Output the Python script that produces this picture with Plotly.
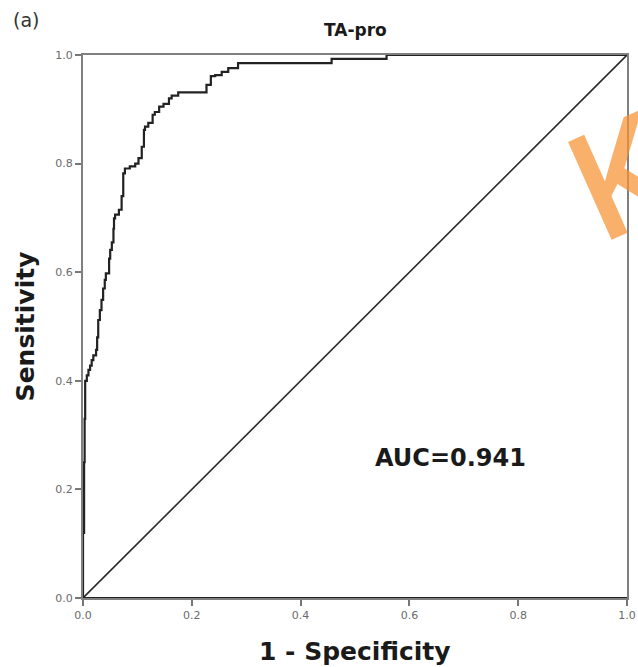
import plotly.graph_objects as go

# ROC curve for TA-pro
fpr = [0.000, 0.002, 0.003, 0.004, 0.004, 0.007, 0.010, 0.013, 0.016, 0.019,
       0.024, 0.026, 0.028, 0.031, 0.034, 0.037, 0.040, 0.042, 0.048, 0.050,
       0.053, 0.056, 0.057, 0.059, 0.066, 0.071, 0.074, 0.077, 0.086, 0.096,
       0.102, 0.108, 0.112, 0.114, 0.120, 0.128, 0.132, 0.140, 0.148, 0.158,
       0.163, 0.175, 0.188, 0.227, 0.235, 0.243, 0.255, 0.267, 0.285, 0.304,
       0.457, 0.460, 0.558, 0.561, 1.000]
tpr = [0.000, 0.120, 0.250, 0.330, 0.365, 0.400, 0.410, 0.420, 0.428, 0.438,
       0.447, 0.457, 0.480, 0.512, 0.530, 0.549, 0.570, 0.586, 0.598, 0.625,
       0.641, 0.655, 0.680, 0.699, 0.706, 0.715, 0.740, 0.782, 0.791, 0.795,
       0.800, 0.810, 0.831, 0.862, 0.868, 0.875, 0.890, 0.895, 0.905, 0.910,
       0.920, 0.925, 0.931, 0.931, 0.945, 0.961, 0.963, 0.969, 0.976, 0.985,
       0.985, 0.993, 0.993, 1.000, 1.000]
ref_line = [0.0, 1.0]
tick_vals = [0.0, 0.2, 0.4, 0.6, 0.8, 1.0]
tick_text = ["0.0", "0.2", "0.4", "0.6", "0.8", "1.0"]
auc_value = 0.941

fig = go.Figure()
fig.add_trace(go.Scatter(x=ref_line, y=ref_line, mode="lines",
                         line=dict(color="#2a2a2a", width=1.6),
                         hoverinfo="skip", showlegend=False))
fig.add_trace(go.Scatter(x=fpr, y=tpr, mode="lines", line_shape="vh",
                         line=dict(color="#222222", width=2.2),
                         showlegend=False))

axis_common = dict(range=[0, 1], tickvals=tick_vals, ticktext=tick_text,
                   ticks="outside", ticklen=6, tickwidth=1.5, tickcolor="#777777",
                   showgrid=False, zeroline=False, showline=True, mirror=True,
                   linecolor="#808080", linewidth=2, automargin=False,
                   tickfont=dict(family="DejaVu Sans", size=11, color="#6a6a6a"))
fig.update_xaxes(**axis_common)
fig.update_yaxes(**axis_common)

# heavier baseline along the x axis
fig.add_shape(type="line", xref="x", yref="y", x0=0, x1=1, y0=0, y1=0,
              line=dict(color="#222222", width=2.2))

title_font = dict(family="DejaVu Sans", size=25, color="#1a1a1a")
fig.add_annotation(x=0.5, y=-0.098, xref="paper", yref="paper", showarrow=False,
                   xanchor="center", yanchor="middle",
                   text="<b>1 - Specificity</b>", font=title_font)
fig.add_annotation(x=-0.105, y=0.5, xref="paper", yref="paper", showarrow=False,
                   xanchor="center", yanchor="middle",
                   text="<b>Sensitivity</b>", textangle=-90, font=title_font)

fig.add_annotation(x=0.675, y=0.258, xref="x", yref="y", showarrow=False,
                   xanchor="center", yanchor="middle",
                   text="<b>AUC=%.3f</b>" % auc_value,
                   font=dict(family="DejaVu Sans", size=24, color="#1a1a1a"))
fig.add_annotation(x=0.5, y=1.0, xref="paper", yref="paper", yanchor="bottom",
                   yshift=13, showarrow=False, text="<b>TA-pro</b>",
                   font=dict(family="DejaVu Sans", size=17, color="#1a1a1a"))
fig.add_annotation(x=-0.133, y=1.064, xref="paper", yref="paper",
                   xanchor="left", yanchor="middle", showarrow=False,
                   text="(a)", font=dict(family="DejaVu Sans", size=19, color="#333333"))

# orange "K" mark on the right edge
fig.add_annotation(x=1.147, y=0.995, xref="paper", yref="paper", showarrow=False,
                   xanchor="right", yanchor="top",
                   text="K", textangle=-24,
                   font=dict(family="Open Sans", size=150, weight=600,
                             color="rgba(247,145,50,0.72)"))

fig.update_layout(width=638, height=667,
                  margin=dict(l=83, r=11, t=55, b=69),
                  plot_bgcolor="white", paper_bgcolor="white")

fig.write_html("out.html")
